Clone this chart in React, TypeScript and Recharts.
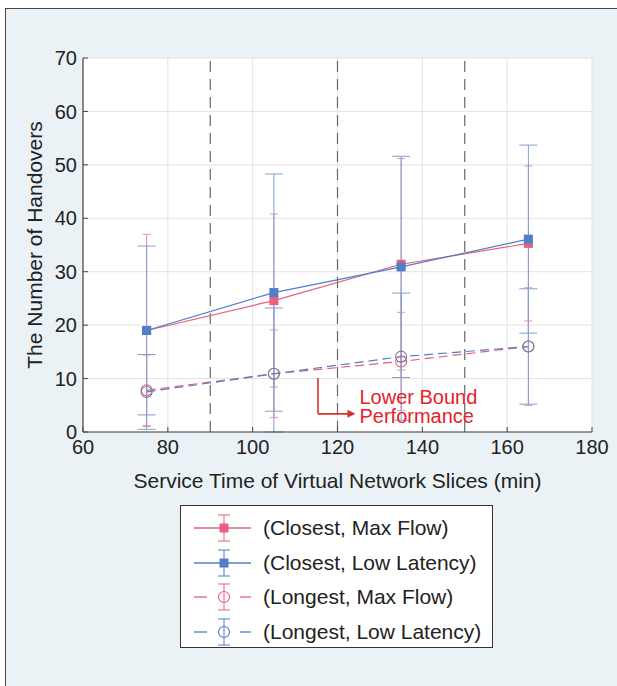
import React from 'react'
import {
  ComposedChart,
  Line,
  ErrorBar,
  XAxis,
  YAxis,
  CartesianGrid,
  ReferenceLine,
  ReferenceDot,
  Legend,
  Label,
} from 'recharts'

// service time (min) at each measured point
const serviceTimes = [75, 105, 135, 165]

// mean number of handovers and the error bar [below, above] the mean, per strategy
const closestMaxFlow = [19, 24.6, 31.4, 35.3]
const closestMaxFlowErr = [[18, 18], [16.2, 16.2], [19.8, 19.8], [14.5, 14.5]]
const closestLowLatency = [19, 26.1, 30.9, 36.1]
const closestLowLatencyErr = [[15.8, 15.8], [22.2, 22.2], [20.7, 20.7], [17.6, 17.6]]
const longestMaxFlow = [7.8, 10.9, 13.2, 16]
const longestMaxFlowErr = [[6.6, 6.6], [8.2, 8.2], [9.2, 9.2], [11, 11]]
const longestLowLatency = [7.5, 10.9, 14.1, 16]
// the bar at 105 runs off the bottom of the axes
const longestLowLatencyErr = [[7, 7], [10.9, 12.3], [11.9, 11.9], [10.8, 10.8]]

const xTicks = [60, 80, 100, 120, 140, 160, 180]
const yTicks = [0, 10, 20, 30, 40, 50, 60, 70]
const slotBoundaries = [90, 120, 150]

const seriesNames = [
  '(Closest, Max Flow)',
  '(Closest, Low Latency)',
  '(Longest, Max Flow)',
  '(Longest, Low Latency)',
]

const data = serviceTimes.map((x, i) => ({
  x,
  cmf: closestMaxFlow[i],
  cmfErr: closestMaxFlowErr[i],
  cll: closestLowLatency[i],
  cllErr: closestLowLatencyErr[i],
  lmf: longestMaxFlow[i],
  lmfErr: longestMaxFlowErr[i],
  lll: longestLowLatency[i],
  lllErr: longestLowLatencyErr[i],
}))

const PINK = '#e8607e'
const PINK_ERR = '#ee8da0'
const BLUE = '#4f7fc9'
const BLUE_ERR = '#809fd6'
const RED = '#e8202a'
const AXIS = '#444'
const FONT = "'Liberation Sans', Arial, Helvetica, sans-serif"

function SquareDot(props: any) {
  const { cx, cy, fill } = props
  if (cx == null || cy == null) return null
  return <rect x={cx - 4.5} y={cy - 4.5} width={9} height={9} fill={fill} />
}

function CircleDot(props: any) {
  const { cx, cy, stroke } = props
  if (cx == null || cy == null) return null
  return <circle cx={cx} cy={cy} r={5.5} fill="none" stroke={stroke} strokeWidth={1.1} />
}

function ArrowHead(props: any) {
  const { cx, cy } = props
  return <polygon points={`${cx - 7},${cy - 4} ${cx + 1},${cy} ${cx - 7},${cy + 4}`} fill="#d9312b" />
}

function AnnotationText(props: any) {
  const { cx, cy } = props
  return (
    <text x={cx + 5} y={cy} fill={RED} fontSize={20} fontFamily={FONT}>
      <tspan x={cx + 5} dy={-10}>Lower Bound</tspan>
      <tspan x={cx + 5} dy={19.5}>Performance</tspan>
    </text>
  )
}

function LegendMarker({ color, dashed, square }: { color: string; dashed: boolean; square: boolean }) {
  return (
    <svg width={70} height={34} style={{ display: 'block' }}>
      {dashed ? (
        <>
          <line x1={13} y1={17} x2={26} y2={17} stroke={color} strokeWidth={1.3} />
          <line x1={59} y1={17} x2={72} y2={17} stroke={color} strokeWidth={1.3} />
        </>
      ) : (
        <line x1={13} y1={17} x2={74} y2={17} stroke={color} strokeWidth={1.3} />
      )}
      <line x1={43} y1={4} x2={43} y2={30} stroke={color} strokeWidth={1} />
      <line x1={37} y1={4} x2={49} y2={4} stroke={color} strokeWidth={1} />
      <line x1={37} y1={30} x2={49} y2={30} stroke={color} strokeWidth={1} />
      {square ? (
        <rect x={38.5} y={12.5} width={9} height={9} fill={color} />
      ) : (
        <circle cx={43} cy={17} r={5.5} fill="none" stroke={color} strokeWidth={1.1} />
      )}
    </svg>
  )
}

function ChartLegend() {
  const rows = [
    { color: PINK, dashed: false, square: true },
    { color: BLUE, dashed: false, square: true },
    { color: PINK, dashed: true, square: false },
    { color: BLUE, dashed: true, square: false },
  ]
  return (
    <div
      style={{
        width: 313,
        height: 143,
        background: '#fff',
        border: '1px solid #333',
        paddingTop: 5,
        boxSizing: 'border-box',
        fontFamily: FONT,
      }}
    >
      {rows.map((r, i) => (
        <div key={i} style={{ display: 'flex', alignItems: 'center', height: 34.5 }}>
          <LegendMarker {...r} />
          <span style={{ fontSize: 21, color: '#222', marginLeft: 12, whiteSpace: 'nowrap' }}>
            {seriesNames[i]}
          </span>
        </div>
      ))}
    </div>
  )
}

export default function App() {
  return (
    <div style={{ position: 'absolute', left: 0, top: 0, width: 617, height: 686, background: '#fff' }}>
      <div
        style={{
          position: 'absolute',
          left: 5,
          top: 8,
          width: 612,
          height: 678,
          background: '#eaf2f5',
          borderTop: '1.5px solid #444',
          borderLeft: '1.5px solid #444',
          boxSizing: 'border-box',
        }}
      />
      <div style={{ position: 'absolute', left: 0, top: 0 }}>
        <ComposedChart
          width={617}
          height={686}
          data={data}
          margin={{ top: 58, right: 25, bottom: 194, left: 23 }}
        >
          <CartesianGrid stroke="#e3e3e3" fill="#fff" horizontalValues={yTicks} verticalValues={xTicks} />
          <XAxis
            type="number"
            dataKey="x"
            domain={[60, 180]}
            ticks={xTicks}
            interval={0}
            height={60}
            tickSize={-5}
            tickMargin={13}
            tickLine={{ stroke: AXIS }}
            axisLine={{ stroke: AXIS, strokeWidth: 1.2 }}
            tick={{ fontSize: 20, fill: '#222', fontFamily: FONT }}
          >
            <Label
              value="Service Time of Virtual Network Slices (min)"
              position="insideBottom"
              offset={4}
              style={{ fontSize: 21, fill: '#222', fontFamily: FONT }}
            />
          </XAxis>
          <XAxis
            xAxisId="top"
            orientation="top"
            type="number"
            dataKey="x"
            domain={[60, 180]}
            ticks={xTicks}
            interval={0}
            height={0}
            tick={false}
            tickSize={-5}
            tickLine={{ stroke: AXIS }}
            axisLine={{ stroke: AXIS, strokeWidth: 1.2 }}
          />
          <YAxis
            type="number"
            domain={[0, 70]}
            ticks={yTicks}
            interval={0}
            width={60}
            allowDataOverflow
            tickSize={-5}
            tickMargin={11}
            tickLine={{ stroke: AXIS }}
            axisLine={{ stroke: AXIS, strokeWidth: 1.2 }}
            tick={{ fontSize: 20, fill: '#222', fontFamily: FONT }}
          >
            <Label
              value="The Number of Handovers"
              angle={-90}
              position="insideLeft"
              offset={12}
              style={{ fontSize: 21, fill: '#222', fontFamily: FONT, textAnchor: 'middle' }}
            />
          </YAxis>
          <YAxis
            yAxisId="right"
            orientation="right"
            type="number"
            domain={[0, 70]}
            ticks={yTicks}
            interval={0}
            width={0}
            tick={false}
            tickSize={-5}
            tickLine={{ stroke: AXIS }}
            axisLine={{ stroke: AXIS, strokeWidth: 1.2 }}
          />

          {slotBoundaries.map((b) => (
            <ReferenceLine key={b} x={b} stroke="#666" strokeWidth={1.2} strokeDasharray="11 7" />
          ))}

          <Line
            dataKey="cmf"
            stroke={PINK}
            strokeWidth={1.2}
            dot={<SquareDot fill={PINK} />}
            activeDot={false}
            isAnimationActive={false}
          >
            <ErrorBar dataKey="cmfErr" width={4} stroke={PINK_ERR} strokeWidth={1} direction="y" />
          </Line>
          <Line
            dataKey="cll"
            stroke={BLUE}
            strokeWidth={1.2}
            dot={<SquareDot fill={BLUE} />}
            activeDot={false}
            isAnimationActive={false}
          >
            <ErrorBar dataKey="cllErr" width={9} stroke={BLUE_ERR} strokeWidth={1} direction="y" />
          </Line>
          <Line
            dataKey="lmf"
            stroke={PINK}
            strokeWidth={1.2}
            strokeDasharray="9 5"
            dot={<CircleDot stroke={PINK} />}
            activeDot={false}
            isAnimationActive={false}
          >
            <ErrorBar dataKey="lmfErr" width={4} stroke={PINK_ERR} strokeWidth={1} direction="y" />
          </Line>
          <Line
            dataKey="lll"
            stroke={BLUE}
            strokeWidth={1.2}
            strokeDasharray="9 5"
            dot={<CircleDot stroke="#6f7fa8" />}
            activeDot={false}
            isAnimationActive={false}
          >
            <ErrorBar dataKey="lllErr" width={9} stroke={BLUE_ERR} strokeWidth={1} direction="y" />
          </Line>

          <ReferenceLine
            segment={[{ x: 115.4, y: 10.1 }, { x: 115.4, y: 3.4 }]}
            stroke="#d9312b"
            strokeWidth={1.6}
          />
          <ReferenceLine
            segment={[{ x: 115.4, y: 3.4 }, { x: 123, y: 3.4 }]}
            stroke="#d9312b"
            strokeWidth={1.6}
          />
          <ReferenceDot x={124} y={3.4} r={0} shape={<ArrowHead />} />
          <ReferenceDot x={124} y={3.4} r={0} shape={<AnnotationText />} />

          <Legend
            layout="vertical"
            align="center"
            verticalAlign="middle"
            content={() => <ChartLegend />}
            wrapperStyle={{ position: 'absolute', left: 180, top: 505, width: 315, height: 145 }}
          />
        </ComposedChart>
      </div>
    </div>
  )
}
